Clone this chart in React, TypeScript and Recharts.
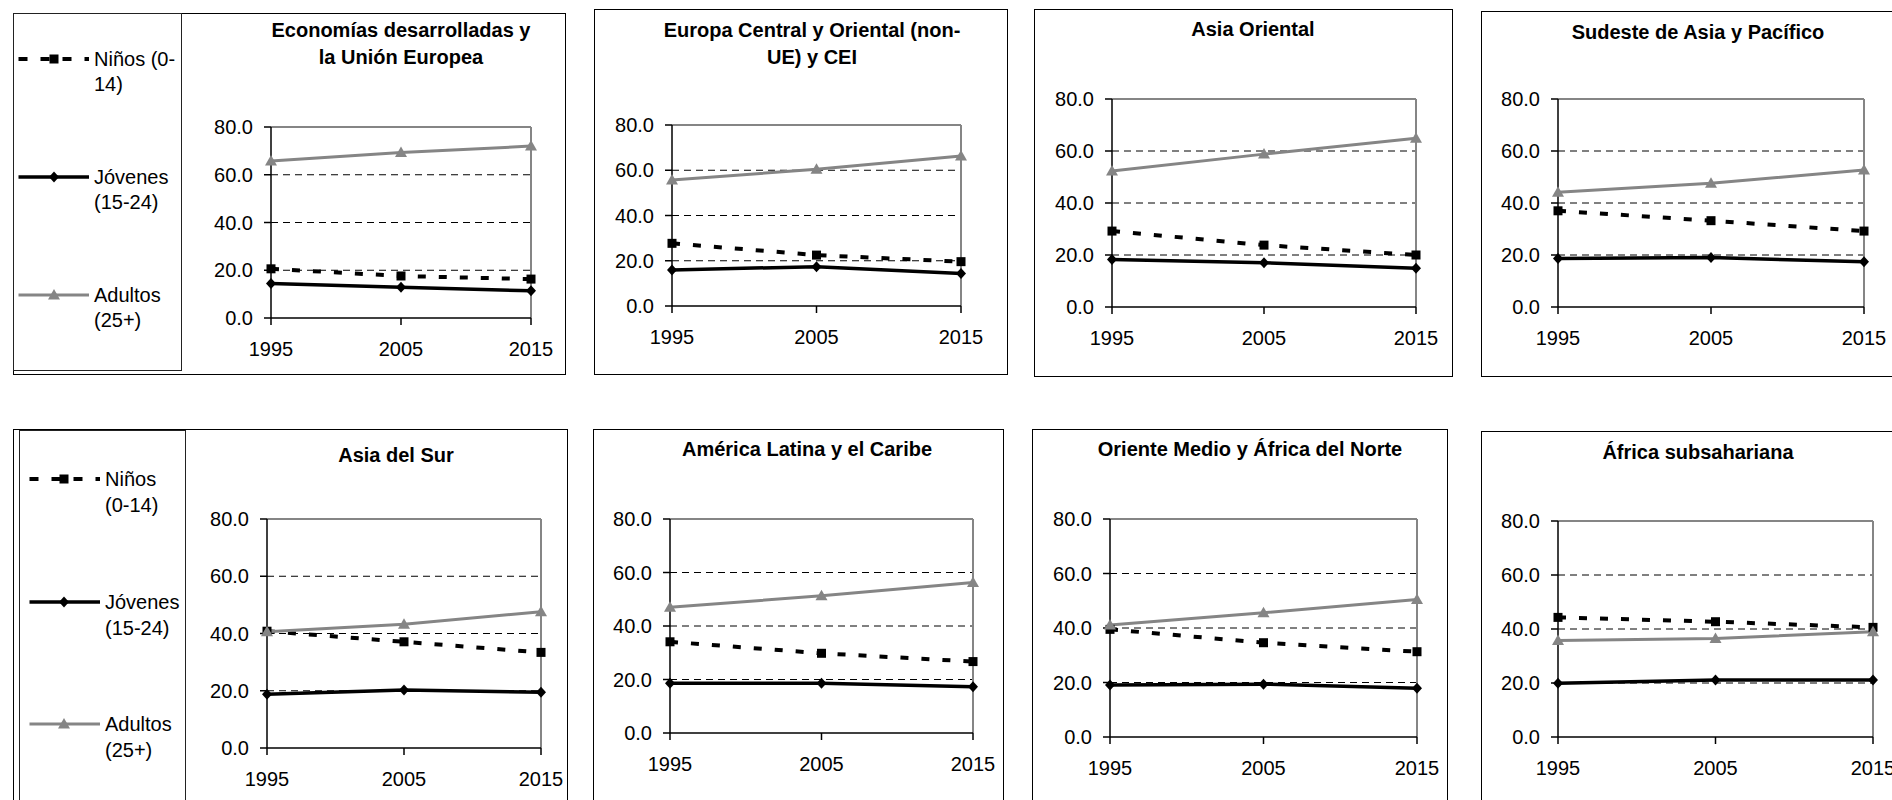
import React from "react";
import { LineChart, Line, XAxis, YAxis, CartesianGrid, ReferenceLine } from "recharts";

const years = ["1995", "2005", "2015"];
const yTicks = [0, 20, 40, 60, 80];

const titles = [
  ["Economías desarrolladas y", "la Unión Europea"],
  ["Europa Central y Oriental (non-", "UE) y CEI"],
  ["Asia Oriental"],
  ["Sudeste de Asia y Pacífico"],
  ["Asia del Sur"],
  ["América Latina y el Caribe"],
  ["Oriente Medio y África del Norte"],
  ["África subsahariana"],
];

// Niños (0-14), one row per region
const ninos = [
  [20.6, 17.6, 16.3],
  [27.7, 22.5, 19.6],
  [29.2, 23.8, 20.0],
  [37.0, 33.2, 29.2],
  [40.8, 37.1, 33.4],
  [34.1, 29.8, 26.7],
  [39.5, 34.6, 31.3],
  [44.3, 42.7, 40.6],
];

// Jóvenes (15-24)
const jovenes = [
  [14.5, 12.9, 11.4],
  [15.9, 17.4, 14.4],
  [18.3, 17.0, 14.9],
  [18.7, 19.0, 17.4],
  [18.8, 20.3, 19.5],
  [18.6, 18.6, 17.3],
  [19.1, 19.4, 17.9],
  [19.9, 21.1, 21.1],
];

// Adultos (25+)
const adultos = [
  [65.8, 69.3, 72.0],
  [55.7, 60.4, 66.3],
  [52.3, 58.8, 64.9],
  [44.1, 47.6, 52.7],
  [40.6, 43.2, 47.6],
  [47.0, 51.3, 56.3],
  [41.1, 45.6, 50.5],
  [35.7, 36.5, 39.0],
];

const FONT = '"Liberation Sans", Arial, sans-serif';
const GRAY = "#858585";

const seriesStyle = [
  { key: "ninos", color: "#000", width: 4, dash: "8 13", marker: "square" },
  { key: "jovenes", color: "#000", width: 3.5, dash: undefined, marker: "diamond" },
  { key: "adultos", color: GRAY, width: 3, dash: undefined, marker: "triangle" },
];

// box: outer frame, plot: left/top/right/bottom of plot area
const layout = [
  { box: [13, 13, 566, 375], plot: [271, 127, 531, 318], titleX: 401, titleY: [30, 57] },
  { box: [594, 9, 1008, 375], plot: [672, 125, 961, 306], titleX: 812, titleY: [30, 57] },
  { box: [1034, 9, 1453, 377], plot: [1112, 99, 1416, 307], titleX: 1253, titleY: [29] },
  { box: [1481, 11, 1920, 377], plot: [1558, 99, 1864, 307], titleX: 1698, titleY: [32] },
  { box: [13, 429, 568, 840], plot: [267, 519, 541, 748], titleX: 396, titleY: [455] },
  { box: [593, 429, 1004, 840], plot: [670, 519, 973, 733], titleX: 807, titleY: [449] },
  { box: [1032, 429, 1448, 840], plot: [1110, 519, 1417, 737], titleX: 1250, titleY: [449] },
  { box: [1481, 431, 1920, 840], plot: [1558, 521, 1873, 737], titleX: 1698, titleY: [452] },
];

const legends = [
  {
    box: [13, 13, 182, 371], x1: 18.5, x2: 89, mx: 54, tx: 94, lh: 24.5,
    rows: [
      { y: 59, lines: ["Niños (0-", "14)"] },
      { y: 177, lines: ["Jóvenes", "(15-24)"] },
      { y: 295, lines: ["Adultos", "(25+)"] },
    ],
  },
  {
    box: [19, 430, 186, 840], x1: 29.5, x2: 100, mx: 64, tx: 105, lh: 26,
    rows: [
      { y: 479, lines: ["Niños", "(0-14)"] },
      { y: 602, lines: ["Jóvenes", "(15-24)"] },
      { y: 724, lines: ["Adultos", "(25+)"] },
    ],
  },
];

function markerShape(kind: string, cx: number, cy: number, color: string, key?: any) {
  if (kind === "square") {
    return <rect key={key} x={cx - 4.5} y={cy - 4.5} width={9} height={9} fill={color} />;
  }
  if (kind === "diamond") {
    return (
      <polygon key={key} points={`${cx},${cy - 5.5} ${cx + 5},${cy} ${cx},${cy + 5.5} ${cx - 5},${cy}`} fill={color} />
    );
  }
  return (
    <polygon key={key} points={`${cx},${cy - 6} ${cx + 6},${cy + 4.5} ${cx - 6},${cy + 4.5}`} fill={color} />
  );
}

const dotRenderer = (kind: string, color: string) => (p: any) => {
  if (p.cx == null || p.cy == null) return <g key={`e-${p.index}`} />;
  return markerShape(kind, p.cx, p.cy, color, `m-${p.index}`);
};

function LegendBox({ cfg }: { cfg: any }) {
  const [x1, y1, x2, y2] = cfg.box;
  return (
    <>
      <div
        style={{
          position: "absolute", left: x1, top: y1, width: x2 - x1, height: y2 - y1,
          border: "1.5px solid #222", boxSizing: "border-box",
        }}
      />
      <svg style={{ position: "absolute", left: 0, top: 0 }} width={200} height={800}>
        {cfg.rows.map((r: any, i: number) => {
          const s = seriesStyle[i];
          return (
            <g key={i}>
              <line x1={cfg.x1} x2={cfg.x2} y1={r.y} y2={r.y} stroke={s.color} strokeWidth={s.width} strokeDasharray={s.dash ? "9 13" : undefined} />
              {markerShape(s.marker, cfg.mx, r.y, s.color)}
            </g>
          );
        })}
      </svg>
      {cfg.rows.map((r: any, i: number) =>
        r.lines.map((t: string, k: number) => (
          <div
            key={`${i}-${k}`}
            style={{
              position: "absolute", left: cfg.tx, top: r.y + k * cfg.lh - 12, height: 24,
              lineHeight: "24px", fontSize: 20, whiteSpace: "nowrap", color: "#000",
            }}
          >
            {t}
          </div>
        ))
      )}
    </>
  );
}

function Panel({ i }: { i: number }) {
  const L = layout[i];
  const [bx1, by1, bx2, by2] = L.box;
  const [pl, pt, pr, pb] = L.plot;
  const data = years.map((y, k) => ({
    year: y,
    ninos: ninos[i][k],
    jovenes: jovenes[i][k],
    adultos: adultos[i][k],
  }));
  const YW = 80, TOP = 15, RIGHT = 40, XH = 50;
  return (
    <>
      <div
        style={{
          position: "absolute", left: bx1, top: by1, width: bx2 - bx1, height: by2 - by1,
          border: "1.5px solid #000", boxSizing: "border-box",
        }}
      />
      {titles[i].map((t, k) => (
        <div
          key={k}
          style={{
            position: "absolute", left: L.titleX - 300, width: 600, top: L.titleY[k] - 14,
            height: 28, lineHeight: "28px", textAlign: "center", fontWeight: "bold", fontSize: 20,
            color: "#000", whiteSpace: "nowrap",
          }}
        >
          {t}
        </div>
      ))}
      <div style={{ position: "absolute", left: pl - YW, top: pt - TOP }}>
        <LineChart
          width={pr - pl + YW + RIGHT}
          height={pb - pt + TOP + XH}
          data={data}
          margin={{ top: TOP, right: RIGHT, bottom: 0, left: 0 }}
        >
          <CartesianGrid vertical={false} horizontalValues={[20, 40, 60]} stroke="#000" strokeDasharray="7 5" />
          <ReferenceLine y={80} stroke={GRAY} strokeWidth={2} />
          <ReferenceLine x="2015" stroke={GRAY} strokeWidth={2} />
          <XAxis
            dataKey="year"
            interval={0}
            height={XH}
            tickSize={7}
            tickMargin={17}
            axisLine={{ stroke: "#000", strokeWidth: 1.5 }}
            tickLine={{ stroke: "#000", strokeWidth: 1.5 }}
            tick={{ fill: "#000", fontSize: 20, fontFamily: FONT }}
          />
          <YAxis
            type="number"
            domain={[0, 80]}
            ticks={yTicks}
            interval={0}
            width={YW}
            tickSize={7}
            tickMargin={11}
            tickFormatter={(v: number) => v.toFixed(1)}
            axisLine={{ stroke: "#000", strokeWidth: 1.5 }}
            tickLine={{ stroke: "#000", strokeWidth: 1.5 }}
            tick={{ fill: "#000", fontSize: 20, fontFamily: FONT }}
          />
          {seriesStyle.map((s) => (
            <Line
              key={s.key}
              dataKey={s.key}
              type="linear"
              stroke={s.color}
              strokeWidth={s.width}
              strokeDasharray={s.dash}
              dot={dotRenderer(s.marker, s.color)}
              activeDot={false}
              isAnimationActive={false}
            />
          ))}
        </LineChart>
      </div>
    </>
  );
}

export default function App() {
  return (
    <div
      style={{
        position: "absolute", left: 0, top: 0, width: 1892, height: 800, overflow: "hidden",
        background: "#fff", fontFamily: FONT,
      }}
    >
      {layout.map((_, i) => (
        <Panel key={i} i={i} />
      ))}
      {legends.map((cfg, i) => (
        <LegendBox key={`lg-${i}`} cfg={cfg} />
      ))}
    </div>
  );
}
